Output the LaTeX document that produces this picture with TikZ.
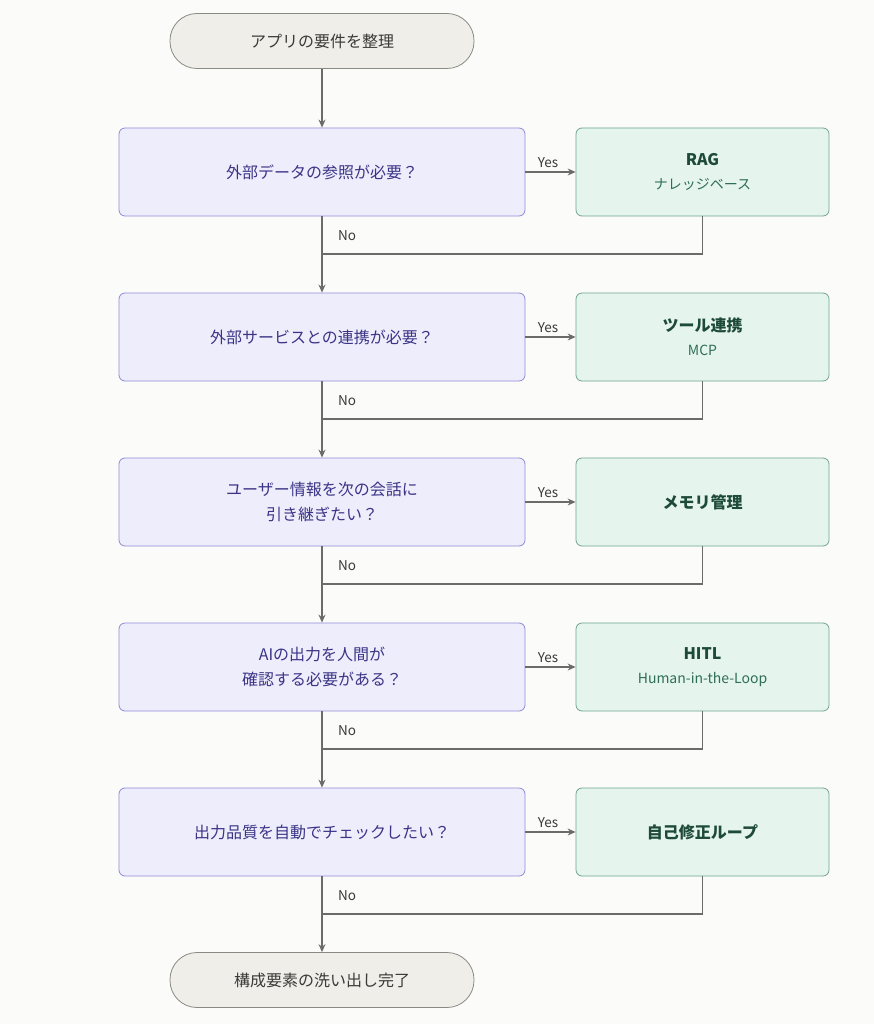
\documentclass[tikz,border=0pt]{standalone}
\usepackage{fontspec}
\setmainfont{Noto Sans CJK JP}
\usetikzlibrary{arrows.meta}
\definecolor{bg}{HTML}{FBFBF9}
\definecolor{dfill}{HTML}{EEEDFC}
\definecolor{ddraw}{HTML}{8F8AD6}
\definecolor{dtext}{HTML}{3B3486}
\definecolor{gfill}{HTML}{E5F5EE}
\definecolor{gdraw}{HTML}{6FA58E}
\definecolor{gtext}{HTML}{1E4A3A}
\definecolor{gsub}{HTML}{2F6E55}
\definecolor{pfill}{HTML}{EFEEE9}
\definecolor{pdraw}{HTML}{8A8A84}
\definecolor{ptext}{HTML}{3A3A37}
\definecolor{ln}{HTML}{6B6B6B}
\begin{document}
\begin{tikzpicture}[x=1pt,y=-1pt,
 dec/.style={draw=ddraw,fill=dfill,rounded corners=6pt,minimum width=406pt,minimum height=88pt,text=dtext,font=\fontsize{16}{25}\selectfont,align=center,line width=0.8pt},
 res/.style={draw=gdraw,fill=gfill,rounded corners=6pt,minimum width=253pt,minimum height=88pt,text=gtext,font=\fontsize{16}{24}\selectfont,align=center,line width=0.8pt},
 pill/.style={draw=pdraw,fill=pfill,rounded corners=27pt,minimum width=304pt,minimum height=55pt,text=ptext,font=\fontsize{16}{20}\selectfont,line width=0.8pt},
 sub/.style={},
 arr/.style={draw=ln,line width=1.2pt,-{Stealth[length=8pt,width=7pt]}},
 lin/.style={draw=ln,line width=1.2pt},
 lab/.style={text=ptext,font=\fontsize{13.5}{15}\selectfont}]
\newcommand{\subt}[1]{{\fontsize{14}{16}\selectfont\color{gsub}#1}}
\fill[bg] (0,0) rectangle (874,1024);
\node[pill] (s) at (322,41) {アプリの要件を整理};
\node[pill] (d6) at (322,980) {構成要素の洗い出し完了};
\node[dec] (d1) at (322,172) {外部データの参照が必要？};
\node[dec] (d2) at (322,337) {外部サービスとの連携が必要？};
\node[dec] (d3) at (322,502) {ユーザー情報を次の会話に\\引き継ぎたい？};
\node[dec] (d4) at (322,667) {AIの出力を人間が\\確認する必要がある？};
\node[dec] (d5) at (322,832) {出力品質を自動でチェックしたい？};
\node[res] (r1) at (702.5,172) {\textbf{RAG}\\\subt{ナレッジベース}};
\node[res] (r2) at (702.5,337) {\textbf{ツール連携}\\\subt{MCP}};
\node[res] (r3) at (702.5,502) {\textbf{メモリ管理}};
\node[res] (r4) at (702.5,667) {\textbf{HITL}\\\subt{Human-in-the-Loop}};
\node[res] (r5) at (702.5,832) {\textbf{自己修正ループ}};
\draw[arr] (s) -- (d1);
\foreach \i/\n/\y in {1/2/254,2/3/419,3/4/584,4/5/749,5/6/914}{
  \draw[arr] (d\i) -- node[lab,above,pos=0.45]{Yes} (r\i);
  \coordinate (j\i) at (322,\y);
  \draw[arr] (d\i) -- (d\n);
  \draw[lin] (r\i.south) |- (j\i);
  \node[lab] (no\i) at (347,\y-18) {No};
}
\end{tikzpicture}
\end{document}
